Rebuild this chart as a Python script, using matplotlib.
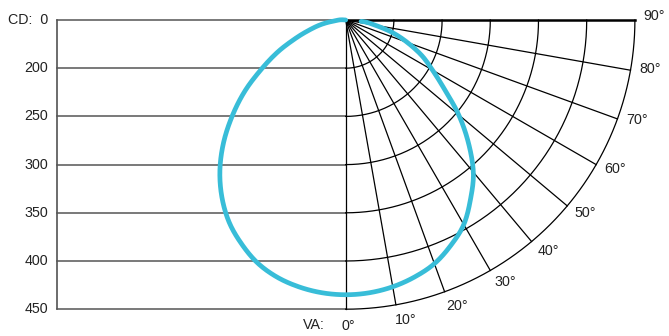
import numpy as np
import matplotlib.pyplot as plt

# vertical angle (deg from nadir, + to the right) and luminous intensity
va_deg = [-90, -85, -80, -75, -70, -65, -60, -55, -50, -45, -40, -35, -30,
          -25, -20, -15, -10, -5, 0, 5, 10, 15, 20, 25, 30, 35, 40, 45,
          50, 55, 60, 65, 70, 75, 80, 85, 90]
cd_vals = [0, 12, 25, 38, 55, 77, 100, 127, 153, 179, 203, 224, 242,
           256, 268, 276, 281, 284, 285, 284, 281, 276, 269, 258, 245, 226, 206, 180,
           153, 125, 104, 87, 68, 50, 31, 16, 0]

ring_cd = [50, 100, 150, 200, 250, 300]
cd_labels = ["CD:  0", "200", "250", "300", "350", "400", "450"]
va_ticks = [0, 10, 20, 30, 40, 50, 60, 70, 80, 90]

px = 0.964  # pixels per cd
cx, cy = 345.7, 20.0


def catmull_rom(x, y, n=10):
    # smooth line through the points (closed loop)
    P = np.column_stack([x, y])
    P = np.vstack([P[-2], P, P[1]])
    out = []
    s = np.linspace(0, 1, n, endpoint=False)[:, None]
    for i in range(1, len(P) - 2):
        p0, p1, p2, p3 = P[i - 1], P[i], P[i + 1], P[i + 2]
        out.append(0.5 * ((2 * p1) + (-p0 + p2) * s
                          + (2 * p0 - 5 * p1 + 4 * p2 - p3) * s ** 2
                          + (-p0 + 3 * p1 - 3 * p2 + p3) * s ** 3))
    out.append(P[-2][None, :])
    out = np.vstack(out)
    return out[:, 0], out[:, 1]


plt.rcParams['font.family'] = ['Liberation Sans', 'DejaVu Sans']
fig = plt.figure(figsize=(6.69, 3.36), dpi=100)
ax = fig.add_axes([0, 0, 1, 1])
ax.axis('off')
ax.set_xlim(-cx / px, (669 - cx) / px)
ax.set_ylim(-(336 - cy) / px, cy / px)

R = ring_cd[-1]
txt = '#222222'

# left box: horizontal lines + axis
ax.plot([-R, -R], [0, -R], color='#444444', lw=1.1)
for i, lab in enumerate(cd_labels):
    d = i * 50
    ax.plot([-R, 0], [-d, -d], color='#555555', lw=1.1)
    ax.text(-R - 9, -d, lab, ha='right', va='center', fontsize=10.3, color=txt)

# polar grid on the right
for r in ring_cd:
    t = np.radians(np.linspace(0, 90, 181))
    ax.plot(r * np.sin(t), -r * np.cos(t), color='black', lw=0.9)
for a in va_ticks:
    t = np.radians(a)
    lw = 1.8 if a == 90 else 0.9
    ax.plot([0, R * np.sin(t)], [0, -R * np.cos(t)], color='black', lw=lw)
    off = 0 if a == 0 else 0.8
    tl = np.radians(a + off)
    ax.text(317 * np.sin(tl) + 3, -317 * np.cos(tl), f"{a}°", ha='center', va='center',
            fontsize=10.3, color=txt)
ax.text(-33, -316, "VA:", ha='center', va='center', fontsize=10.3, color=txt)

# intensity curve
th = np.radians(va_deg)
r = np.array(cd_vals)
xs, ys = catmull_rom(r[:-1] * np.sin(th[:-1]), -r[:-1] * np.cos(th[:-1]))
ax.plot(xs, ys, color='#38bdd8', lw=3.4,
        solid_joinstyle='round', solid_capstyle='round', zorder=5)

fig.savefig('out.png', dpi=100)
